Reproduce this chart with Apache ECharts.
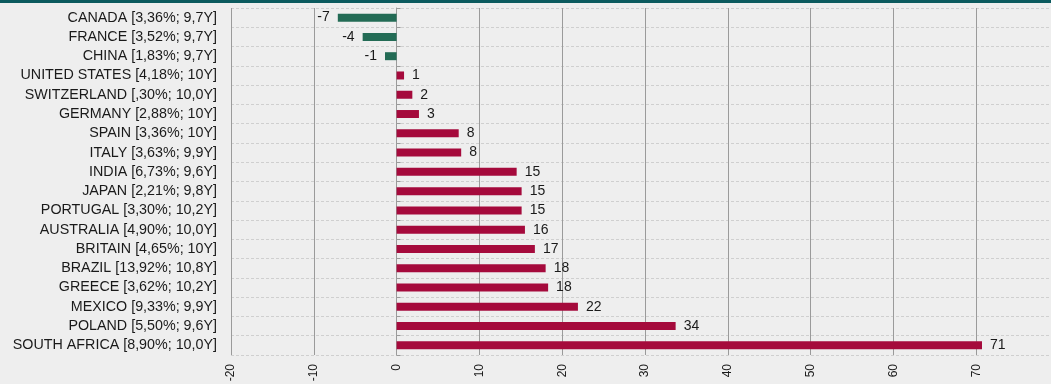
<!DOCTYPE html>
<html>
<head>
<meta charset="utf-8">
<script src="https://cdn.jsdelivr.net/npm/echarts@6/dist/echarts.min.js"></script>
<style>
  html, body { margin: 0; padding: 0; background: #eeeeee; }
  #chart { width: 1051px; height: 384px; }
</style>
</head>
<body>
<div id="chart"></div>
<script>
// Country labels: [yield; duration]
const countries = [
  'CANADA [3,36%; 9,7Y]',
  'FRANCE [3,52%; 9,7Y]',
  'CHINA [1,83%; 9,7Y]',
  'UNITED STATES [4,18%; 10Y]',
  'SWITZERLAND [,30%; 10,0Y]',
  'GERMANY [2,88%; 10Y]',
  'SPAIN [3,36%; 10Y]',
  'ITALY [3,63%; 9,9Y]',
  'INDIA [6,73%; 9,6Y]',
  'JAPAN [2,21%; 9,8Y]',
  'PORTUGAL [3,30%; 10,2Y]',
  'AUSTRALIA [4,90%; 10,0Y]',
  'BRITAIN [4,65%; 10Y]',
  'BRAZIL [13,92%; 10,8Y]',
  'GREECE [3,62%; 10,2Y]',
  'MEXICO [9,33%; 9,9Y]',
  'POLAND [5,50%; 9,6Y]',
  'SOUTH AFRICA [8,90%; 10,0Y]'
];

// Change per country (labels show rounded values)
const changes = [-7.1, -4.1, -1.4, 0.9, 1.9, 2.7, 7.5, 7.8, 14.5, 15.1, 15.1, 15.5, 16.7, 18.0, 18.3, 21.9, 33.7, 70.7];

const axisMin = -20;
const axisMax = 80;
const axisStep = 10;

const POS_COLOR = '#a50a3c';
const NEG_COLOR = '#236b55';
const TEXT = "'Liberation Sans', Arial, sans-serif";

const barData = changes.map(v => ({
  value: v,
  itemStyle: { color: v < 0 ? NEG_COLOR : POS_COLOR },
  label: { position: v < 0 ? 'left' : 'right' }
}));

const chart = echarts.init(document.getElementById('chart'), null, { renderer: 'canvas' });

chart.setOption({
  backgroundColor: '#eeeeee',
  animation: false,
  graphic: [{
    type: 'rect',
    left: 0, top: 0,
    shape: { width: 1051, height: 3 },
    style: { fill: '#0b5a5e' },
    z: 100
  }],
  // the axis runs on past the right edge of the canvas
  grid: {
    left: 231, width: 828, top: 8, height: 347,
    containLabel: false,
    outerBoundsMode: 'none'
  },
  xAxis: {
    type: 'value',
    min: axisMin,
    max: axisMax,
    interval: axisStep,
    axisLine: { show: false },
    axisTick: { show: false },
    axisLabel: {
      rotate: 90,
      margin: 9,
      fontFamily: TEXT,
      fontSize: 12,
      color: '#1a1a1a'
    },
    splitLine: { show: true, lineStyle: { color: '#9a9a9a', width: 1 } }
  },
  yAxis: [{
    type: 'category',
    data: countries,
    inverse: true,
    position: 'left',
    axisLine: { show: false, onZero: false },
    axisTick: { show: false },
    axisLabel: {
      margin: 14,
      fontFamily: TEXT,
      fontSize: 14.3,
      color: '#1a1a1a'
    },
    splitLine: { show: true, lineStyle: { color: '#cfcfcf', type: [3, 2], width: 1 } }
  }, {
    // zero line with category ticks
    type: 'category',
    data: countries,
    inverse: true,
    axisLine: { show: true, onZero: true, lineStyle: { color: '#9a9a9a', width: 1 } },
    axisTick: { show: true, length: 4, lineStyle: { color: '#9a9a9a' } },
    axisLabel: { show: false },
    splitLine: { show: false }
  }],
  series: [{
    type: 'bar',
    yAxisIndex: 0,
    barWidth: 8,
    data: barData,
    label: {
      show: true,
      distance: 8,
      fontFamily: TEXT,
      fontSize: 14,
      color: '#1a1a1a',
      formatter: p => String(Math.round(p.value))
    }
  }]
});
</script>
</body>
</html>
